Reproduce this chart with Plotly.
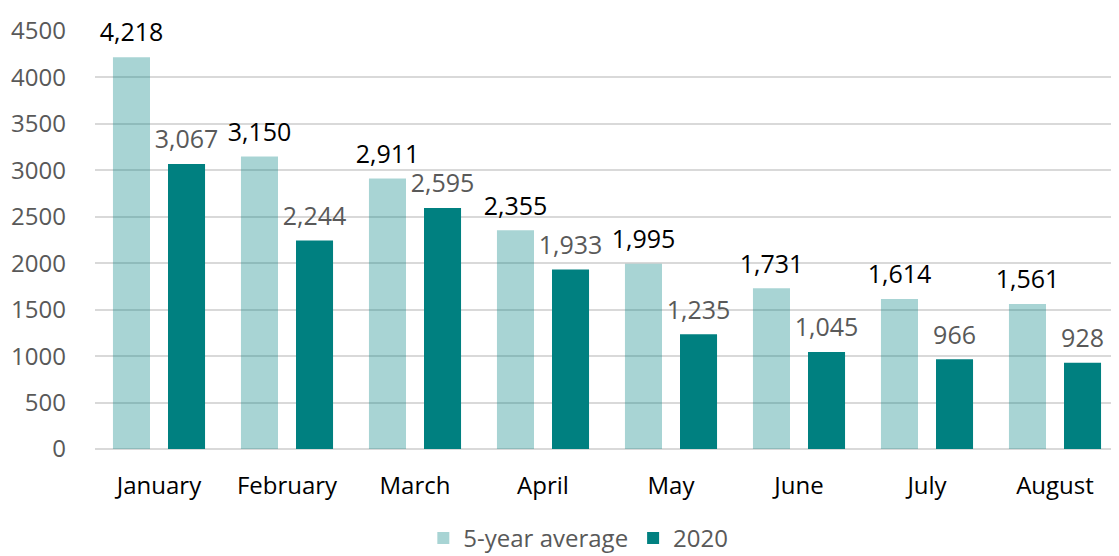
import plotly.graph_objects as go

months = ["January", "February", "March", "April", "May", "June", "July", "August"]
avg5 = [4218, 3150, 2911, 2355, 1995, 1731, 1614, 1561]
y2020 = [3067, 2244, 2595, 1933, 1235, 1045, 966, 928]
yticks = [0, 500, 1000, 1500, 2000, 2500, 3000, 3500, 4000, 4500]

FONT = "Open Sans"
FS = 24
LFS = 25


def lab(v):
    return (f"<span style='font-size:{LFS}px'>{v:,}</span>"
            "<br><span style='font-size:4px;color:rgba(255,255,255,0)'>.</span>")


fig = go.Figure()
fig.add_trace(go.Bar(
    x=months, y=avg5, name="5-year average",
    marker=dict(color="rgba(0,128,128,0.34)", line=dict(width=0)),
    text=[lab(v) for v in avg5], textposition="outside", constraintext="none",
    textfont=dict(color="#000000", size=9, family=FONT),
    cliponaxis=False,
))
fig.add_trace(go.Bar(
    x=months, y=y2020, name="2020",
    marker=dict(color="#008080", line=dict(width=0)),
    text=[lab(v) for v in y2020], textposition="outside", constraintext="none",
    textfont=dict(color="#595959", size=9, family=FONT),
    cliponaxis=False,
))

fig.update_layout(
    width=1111, height=548,
    margin=dict(l=87, r=0, t=23, b=107, autoexpand=False),
    paper_bgcolor="white", plot_bgcolor="white",
    barmode="group", bargap=0.14, bargroupgap=0.327,
    font=dict(family=FONT, size=FS, color="#595959"),
    showlegend=True,
    legend=dict(orientation="h", x=0.472, xanchor="center", y=-0.214, yanchor="middle",
                font=dict(size=FS, color="#595959", family=FONT),
                traceorder="normal"),
    xaxis=dict(tickfont=dict(size=FS, color="#000000", family=FONT), showgrid=False,
               showline=False, ticks="", ticklabelstandoff=20, automargin=False),
    yaxis=dict(range=[0, 4500], tickvals=yticks, tickformat="d",
               tickfont=dict(size=FS, color="#595959", family=FONT),
               showgrid=True, gridcolor="#D9D9D9", gridwidth=2,
               zeroline=True, zerolinecolor="#D9D9D9", zerolinewidth=2,
               ticks="", ticklabelstandoff=28, automargin=False),
)
fig.write_html("out.html")
